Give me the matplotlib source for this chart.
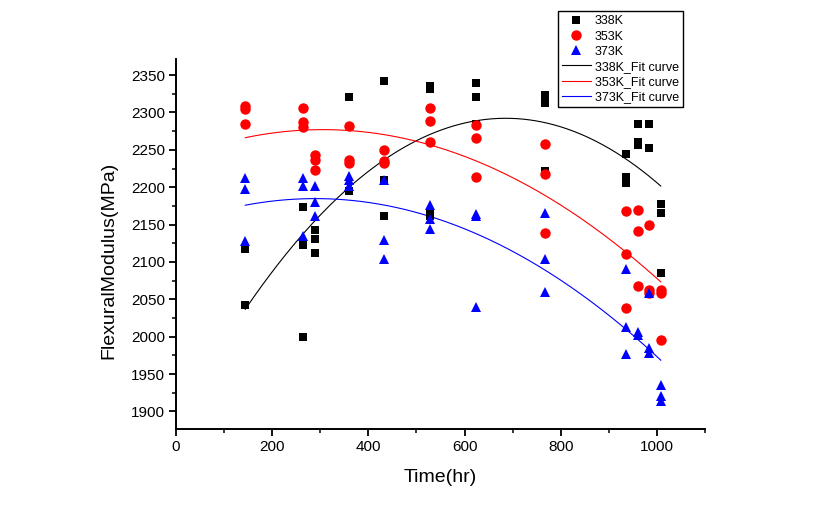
import numpy as np
import matplotlib
matplotlib.use("Agg")
import matplotlib.pyplot as plt
from matplotlib.ticker import MultipleLocator

plt.rcParams['font.family'] = ['Liberation Sans', 'DejaVu Sans']

# Time (hr) for each measurement group
times = [144, 264, 288, 360, 432, 528, 624, 768, 936, 960, 984, 1008]

# Flexural modulus (MPa) readings per time group
k338 = [
    [2117, 2043],
    [2173, 2122, 2000],
    [2143, 2131, 2112],
    [2320, 2195],
    [2342, 2209, 2161],
    [2335, 2331, 2165, 2161],
    [2340, 2320, 2285],
    [2323, 2313, 2222],
    [2245, 2213, 2205],
    [2284, 2261, 2256],
    [2285, 2252],
    [2177, 2165, 2085],
]
k353 = [
    [2309, 2305, 2284],
    [2306, 2287, 2280],
    [2243, 2237, 2223],
    [2282, 2237, 2232],
    [2250, 2235, 2232],
    [2306, 2289, 2260],
    [2283, 2266, 2214],
    [2258, 2218, 2139],
    [2168, 2110, 2038],
    [2170, 2142, 2068],
    [2150, 2063, 2058],
    [2063, 2058, 1996],
]
k373 = [
    [2212, 2198, 2128],
    [2212, 2202, 2135],
    [2201, 2180, 2162],
    [2215, 2209, 2202],
    [2210, 2130, 2104],
    [2176, 2158, 2144],
    [2164, 2162, 2040],
    [2165, 2104, 2060],
    [2090, 2013, 1977],
    [2006, 2002],
    [2058, 1985, 1978],
    [1935, 1920, 1914],
]

labels = ['338K', '353K', '373K']
colors = ['black', 'red', 'blue']
markers = ['s', 'o', '^']
msizes = [6.2, 7.5, 7.8]

W, H = 838, 518
L, R, B, T = 176, 705, 429, 59
fig = plt.figure(figsize=(W/100, H/100), dpi=100)
ax = fig.add_axes([L/W, 1-B/H, (R-L)/W, (B-T)/H])

series = [k338, k353, k373]
handles_pts = []
handles_fit = []
xfit = np.linspace(min(times), max(times), 200)
fits = []
for vals, lab, c, m, ms in zip(series, labels, colors, markers, msizes):
    xs = np.concatenate([[t]*len(v) for t, v in zip(times, vals)])
    ys = np.concatenate([v for v in vals])
    h, = ax.plot(xs, ys, linestyle='none', marker=m, color=c, markersize=ms,
                 markeredgewidth=0, label=lab, zorder=3)
    handles_pts.append(h)
    coef = np.polyfit(xs, ys, 2)
    fits.append((coef, c, lab))
for coef, c, lab in fits:
    hf, = ax.plot(xfit, np.polyval(coef, xfit), color=c, lw=0.8,
                  label=lab + '_Fit curve', zorder=2)
    handles_fit.append(hf)

ax.set_xlim(0, 1100)
ax.set_ylim(1876.5, 2371.5)
ax.xaxis.set_major_locator(MultipleLocator(200))
ax.xaxis.set_minor_locator(MultipleLocator(100))
ax.set_yticks(np.arange(1900, 2351, 50))
ax.yaxis.set_minor_locator(MultipleLocator(25))
for s in ['top', 'right']:
    ax.spines[s].set_visible(False)
for s in ['left', 'bottom']:
    ax.spines[s].set_linewidth(1.4)
ax.tick_params(which='major', direction='out', length=5, width=1.3, labelsize=11, pad=3)
ax.tick_params(which='minor', direction='out', length=3, width=1.1)

ax.set_xlabel('Time(hr)', fontsize=14)
ax.set_ylabel('FlexuralModulus(MPa)', fontsize=14)
ax.xaxis.set_label_coords(0.5, (B-478)/(B-T))
ax.xaxis.label.set_va('center')
ax.yaxis.set_label_coords((109-L)/(R-L), (B-260)/(B-T))
ax.yaxis.label.set_va('center')

leg = ax.legend(handles=handles_pts + handles_fit, loc='upper left',
                bbox_to_anchor=(558/W, 1-11/H), bbox_transform=fig.transFigure,
                fontsize=9, frameon=True, fancybox=False, framealpha=1,
                edgecolor='black', handlelength=2.25, labelspacing=0.25,
                borderpad=0.35, handletextpad=0.35, borderaxespad=0)
leg.get_frame().set_linewidth(1.0)

fig.savefig('out.png', dpi=100)
